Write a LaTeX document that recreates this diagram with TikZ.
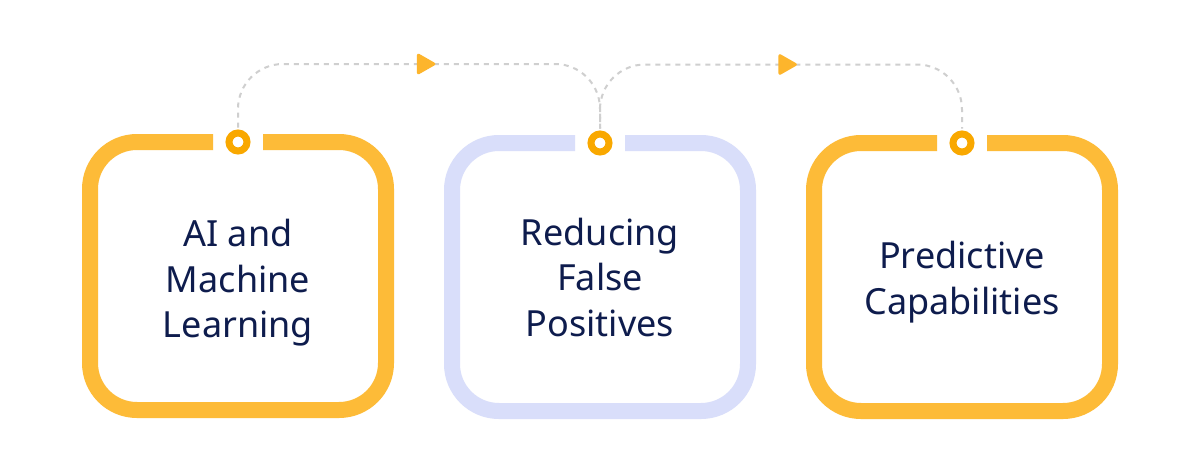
\documentclass[tikz,border=0pt]{standalone}
\usepackage{fontspec}
\setmainfont{Noto Sans}
\usetikzlibrary{arrows.meta,decorations.markings,calc}
\definecolor{boxorange}{HTML}{FDBB38}
\definecolor{arrowc}{HTML}{FDB52C}
\definecolor{boxlav}{HTML}{D9DEFA}
\definecolor{ringc}{HTML}{F9A800}
\definecolor{dashc}{HTML}{CFCFCF}
\definecolor{navy}{HTML}{0E1C4D}
\tikzset{
  x=1pt, y=-1pt,
  boxnode/.style={minimum width=296pt, minimum height=268pt, inner sep=0pt, outer sep=0pt,
    align=center, text=navy, font=\fontsize{36}{45.5}\selectfont},
  boxline/.style={line width=16pt, rounded corners=47pt, line cap=butt},
  ring/.style={circle, draw=ringc, line width=7pt, minimum size=18pt, inner sep=0pt, fill=white},
  dashline/.style={draw=dashc, line width=2pt, dash pattern=on 5pt off 5pt, rounded corners=45pt,
    postaction={decorate, decoration={markings,
      mark=at position 0.535 with {\arrow[arrowc, line width=3pt]{Triangle[length=20pt,width=22pt,round]}}}}},
}
\begin{document}
\begin{tikzpicture}
\useasboundingbox (0,0) rectangle (1200,471);
\fill[white] (0,0) rectangle (1200,471);
\node[boxnode] (b1) at (238,276) {};
\node[boxnode] (b2) at (600,277) {};
\node[boxnode] (b3) at (962,277) {};
\node[boxnode, minimum width=0pt, minimum height=0pt] (t1) at (238,283) {AI and\\Machine\\Learning};
\node[boxnode, minimum width=0pt, minimum height=0pt] (t2) at (600,277) {Reducing\\False\\Positives};
\node[boxnode, minimum width=0pt, minimum height=0pt] (t3) at (962,282) {Predictive\\Capabilities};
\draw[boxline, boxorange] ([xshift=25pt]b1.north) -- (b1.north east) -- (b1.south east) -- (b1.south west) -- (b1.north west) -- ([xshift=-25pt]b1.north);
\draw[boxline, boxlav] ([xshift=25pt]b2.north) -- (b2.north east) -- (b2.south east) -- (b2.south west) -- (b2.north west) -- ([xshift=-25pt]b2.north);
\draw[boxline, boxorange] ([xshift=25pt]b3.north) -- (b3.north east) -- (b3.south east) -- (b3.south west) -- (b3.north west) -- ([xshift=-25pt]b3.north);
\node[ring] (c1) at (b1.north) {};
\node[ring] (c2) at (b2.north) {};
\node[ring] (c3) at (b3.north) {};
\coordinate (m1) at ($(c1.north)!0.5!(c2.north)$);
\coordinate (m2) at ($(c2.north)!0.5!(c3.north)$);
\draw[dashline] ([yshift=2pt]c1.north) |- ([yshift=66pt]m1) -| ([yshift=2pt]c2.north);
\draw[dashline] ([yshift=2pt]c2.north) |- ([yshift=66pt]m2) -| ([yshift=2pt]c3.north);
\end{tikzpicture}
\end{document}
